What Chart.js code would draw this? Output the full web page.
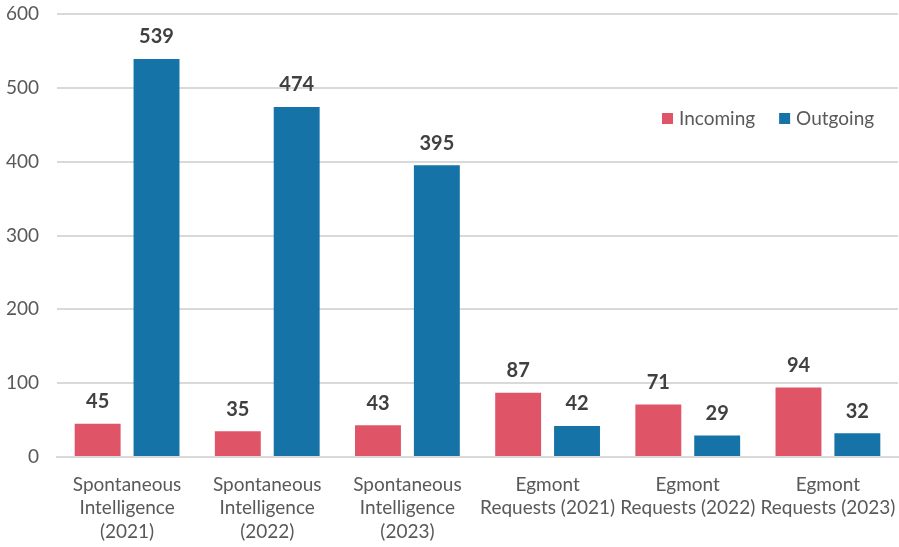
<!DOCTYPE html>
<html>
<head>
<meta charset="utf-8">
<script src="https://cdn.jsdelivr.net/npm/chart.js@4"></script>
<style>
  html, body { margin: 0; padding: 0; background: #fff; }
  #wrap { width: 899px; height: 547px; }
</style>
</head>
<body>
<div id="wrap"><canvas id="chart" width="899" height="547"></canvas></div>
<script>
// chart data
const categories = [
    ['Spontaneous', 'Intelligence', '(2021)'],
    ['Spontaneous', 'Intelligence', '(2022)'],
    ['Spontaneous', 'Intelligence', '(2023)'],
    ['Egmont', 'Requests (2021)'],
    ['Egmont', 'Requests (2022)'],
    ['Egmont', 'Requests (2023)']
];
const seriesNames = ['Incoming', 'Outgoing'];
const incoming = [45, 35, 43, 87, 71, 94];
const outgoing = [539, 474, 395, 42, 29, 32];
const yTicks = [0, 100, 200, 300, 400, 500, 600];

const RED = '#E05467';
const BLUE = '#1673A8';
const TEXT = '#595959';
const FONT = 'Lato, "Open Sans", sans-serif';

// draws value labels above every bar
const valueLabels = {
    id: 'valueLabels',
    afterDatasetsDraw(chart) {
        const ctx = chart.ctx;
        ctx.save();
        ctx.font = 'bold 20px ' + FONT;
        ctx.fillStyle = '#404040';
        ctx.textAlign = 'center';
        ctx.textBaseline = 'middle';
        chart.data.datasets.forEach((ds, i) => {
            chart.getDatasetMeta(i).data.forEach((bar, j) => {
                ctx.fillText(ds.data[j], bar.x, bar.y - 22);
            });
        });
        ctx.restore();
    }
};

// legend sitting inside the plot, top right
const insideLegend = {
    id: 'insideLegend',
    afterDraw(chart) {
        const ctx = chart.ctx;
        const area = chart.chartArea;
        const y = area.top + 105;
        let x = area.right - 236;
        ctx.save();
        ctx.font = '19px ' + FONT;
        ctx.textBaseline = 'middle';
        chart.data.datasets.forEach(ds => {
            ctx.fillStyle = ds.backgroundColor;
            ctx.fillRect(x, y - 6, 11, 11);
            ctx.fillStyle = TEXT;
            ctx.fillText(ds.label, x + 17, y);
            x += 17 + ctx.measureText(ds.label).width + 24;
        });
        ctx.restore();
    }
};

new Chart(document.getElementById('chart'), {
    type: 'bar',
    data: {
        labels: categories,
        datasets: [
            { label: seriesNames[0], data: incoming, backgroundColor: RED },
            { label: seriesNames[1], data: outgoing, backgroundColor: BLUE }
        ]
    },
    options: {
        responsive: false,
        animation: false,
        devicePixelRatio: 1,
        layout: { padding: { top: 14, right: 1, left: 0, bottom: 0 } },
        datasets: {
            bar: { categoryPercentage: 0.84, barPercentage: 0.78 }
        },
        plugins: {
            legend: { display: false },
            tooltip: { enabled: false }
        },
        scales: {
            x: {
                grid: { display: false },
                border: { color: '#D9D9D9', width: 2 },
                ticks: {
                    color: TEXT,
                    font: { family: FONT, size: 19, lineHeight: 1.23 },
                    padding: 8,
                    maxRotation: 0,
                    autoSkip: false
                },
                afterFit(scale) {
                    scale.height = 90;
                    scale.paddingLeft = 0;
                    scale.paddingRight = 0;
                }
            },
            y: {
                min: 0,
                max: 600,
                afterBuildTicks(scale) {
                    scale.ticks = yTicks.map(v => ({ value: v }));
                },
                grid: { color: '#D9D9D9', lineWidth: 2, drawTicks: false },
                border: { display: false },
                ticks: {
                    color: TEXT,
                    font: { family: FONT, size: 19 },
                    padding: 18
                },
                afterFit(scale) {
                    scale.width = 57;
                    scale.paddingTop = 0;
                    scale.paddingBottom = 0;
                }
            }
        }
    },
    plugins: [valueLabels, insideLegend]
});
</script>
</body>
</html>
